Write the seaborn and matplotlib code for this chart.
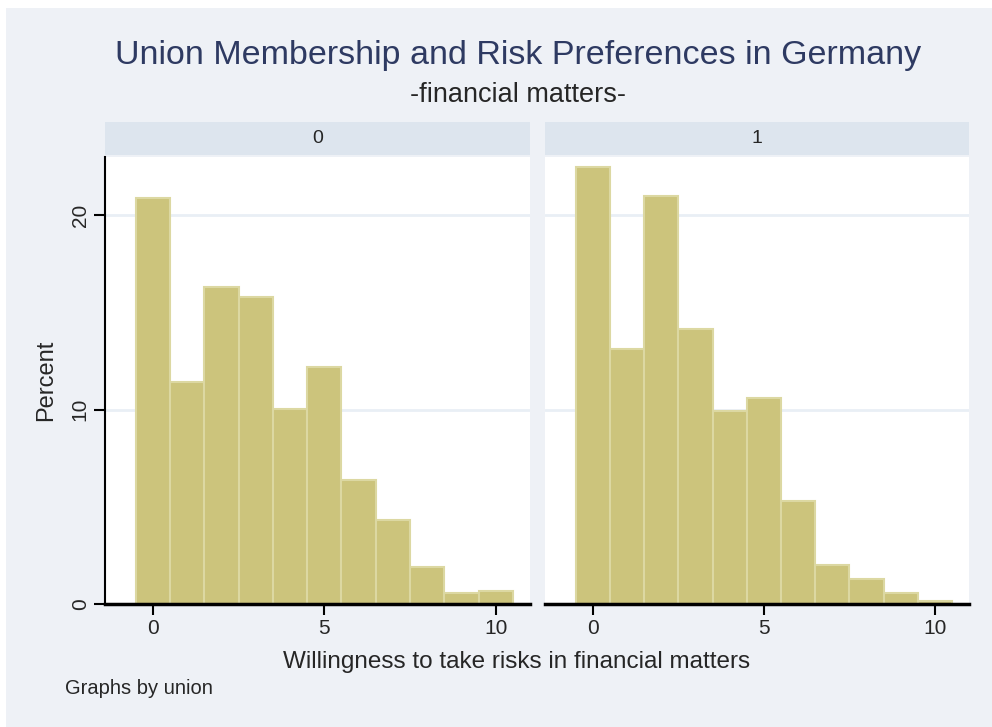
import matplotlib
matplotlib.use("Agg")
import matplotlib.pyplot as plt
from matplotlib.patches import Rectangle
import pandas as pd
import seaborn as sns

# percent of respondents at each risk level (0-10), by union membership
RISK_LEVELS = [0, 1, 2, 3, 4, 5, 6, 7, 8, 9, 10]
PCT_UNION_0 = [20.9, 11.4, 16.3, 15.8, 10.05, 12.2, 6.4, 4.3, 1.9, 0.55, 0.65]
PCT_UNION_1 = [22.5, 13.1, 21.0, 14.15, 9.95, 10.6, 5.3, 2.0, 1.3, 0.57, 0.14]
PANEL_LABELS = ["0", "1"]
Y_TICKS = [0, 10, 20]
X_TICKS = [0, 5, 10]

BG = "#EEF1F6"
STRIP = "#DDE5EE"
BAR_FACE = "#CCC47C"
BAR_EDGE = "#DCD8A2"
GRID = "#E9EFF5"
TITLE_COLOR = "#2E3A62"

df = pd.concat(
    [
        pd.DataFrame({"union": "0", "risk": RISK_LEVELS, "percent": PCT_UNION_0}),
        pd.DataFrame({"union": "1", "risk": RISK_LEVELS, "percent": PCT_UNION_1}),
    ],
    ignore_index=True,
)

sns.set_theme(style="white")
plt.rcParams["font.family"] = ["Liberation Sans", "DejaVu Sans"]

W, H = 992, 727
fig = plt.figure(figsize=(W / 100, H / 100), dpi=100)
fig.patch.set_facecolor("white")
fig.patches.append(
    Rectangle((6 / W, 0), 1, 1 - 8 / H, transform=fig.transFigure,
              facecolor=BG, edgecolor="none", zorder=-10)
)

panels = [(105, 530), (545, 969)]
top_px, bottom_px = 157, 604
strip_top, strip_bot = 122, 155

for i, ((x0, x1), lab) in enumerate(zip(panels, PANEL_LABELS)):
    ax = fig.add_axes([x0 / W, (H - bottom_px) / H, (x1 - x0) / W, (bottom_px - top_px) / H])
    ax.set_facecolor("white")
    sub = df[df["union"] == lab]
    sns.histplot(data=sub, x="risk", weights="percent", discrete=True, ax=ax,
                 color=BAR_FACE, edgecolor=BAR_EDGE, linewidth=1.5, alpha=1)
    ax.set_xlim(-1.4, 11.0)
    ax.set_ylim(0, 23.0)
    for yv in Y_TICKS[1:]:
        ax.axhline(yv, color=GRID, linewidth=2, zorder=0)
    ax.set_axisbelow(True)
    ax.set_xticks(X_TICKS)
    ax.set_xticklabels([str(v) for v in X_TICKS], fontsize=15)
    ax.tick_params(axis="x", bottom=True, direction="out", length=8, width=1.5,
                   color="black", pad=3)
    for s in ["top", "right"]:
        ax.spines[s].set_visible(False)
    ax.spines["bottom"].set_color("black")
    ax.spines["bottom"].set_linewidth(2.5)
    ax.set_yticks(Y_TICKS)
    if i == 0:
        ax.spines["left"].set_color("black")
        ax.spines["left"].set_linewidth(1.5)
        ax.set_yticklabels([str(v) for v in Y_TICKS], fontsize=15, rotation=90, va="center")
        ax.tick_params(axis="y", left=True, direction="out", length=8, width=1.5,
                       color="black", pad=3)
        ax.set_ylabel("Percent", fontsize=17, labelpad=10)
    else:
        ax.spines["left"].set_visible(False)
        ax.set_yticklabels([])
        ax.tick_params(axis="y", left=False, length=0)
        ax.set_ylabel("")
    ax.set_xlabel("")

    sax = fig.add_axes([x0 / W, (H - strip_bot) / H, (x1 - x0) / W, (strip_bot - strip_top) / H])
    sax.set_facecolor(STRIP)
    sax.set_xticks([])
    sax.set_yticks([])
    for s in sax.spines.values():
        s.set_visible(False)
    sax.text(0.5, 0.5, lab, ha="center", va="center", fontsize=14, transform=sax.transAxes)

fig.text(518 / W, 1 - 64 / H, "Union Membership and Risk Preferences in Germany",
         ha="center", va="baseline", fontsize=24.5, color=TITLE_COLOR)
fig.text(518 / W, 1 - 102 / H, "-financial matters-", ha="center", va="baseline", fontsize=19.5)
fig.text(517 / W, 1 - 668 / H, "Willingness to take risks in financial matters",
         ha="center", va="baseline", fontsize=17.5)
fig.text(65 / W, 1 - 694 / H, "Graphs by union", ha="left", va="baseline", fontsize=14.5)

fig.savefig("out.png", dpi=100, facecolor=fig.get_facecolor())
